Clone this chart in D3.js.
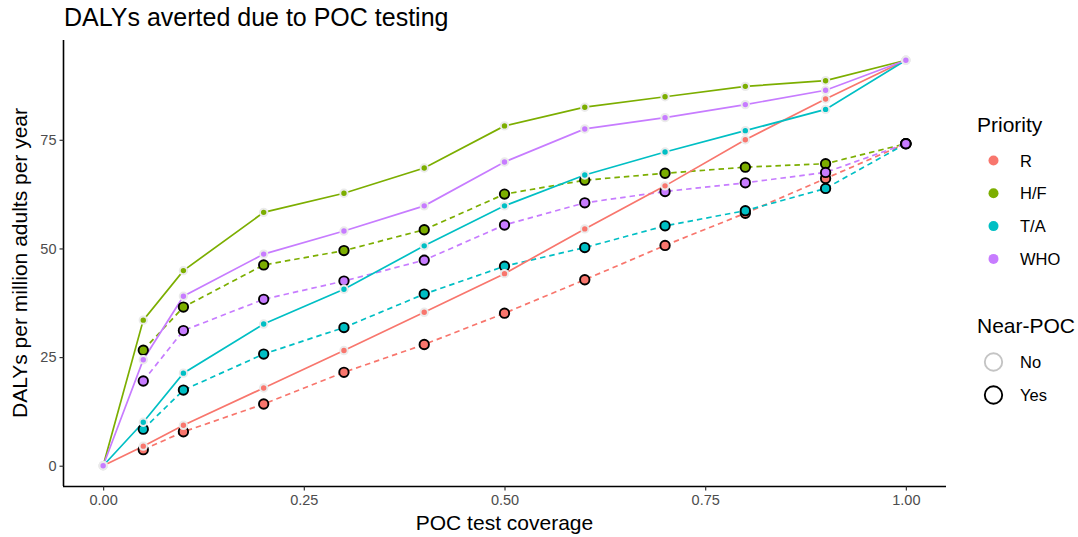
<!DOCTYPE html>
<html>
<head>
<meta charset="utf-8">
<script src="https://cdn.jsdelivr.net/npm/d3@7"></script>
<style>
  html, body { margin: 0; padding: 0; background: #fff; }
  svg { display: block; font-family: "Liberation Sans", Arial, sans-serif; }
</style>
</head>
<body>
<svg id="chart" width="1078" height="537"></svg>
<script>
// POC test coverage levels (the near-POC runs start at 5%)
const coverage = [0, 0.05, 0.1, 0.2, 0.3, 0.4, 0.5, 0.6, 0.7, 0.8, 0.9, 1.0];
const coverageNearPoc = [0.05, 0.1, 0.2, 0.3, 0.4, 0.5, 0.6, 0.7, 0.8, 0.9, 1.0];

// Priority groups and their colours
const priorities = ["R", "H/F", "T/A", "WHO"];
const priorityColors = ["#F8766D", "#7CAE00", "#00BFC4", "#C77CFF"];

// Near-POC levels
const nearPoc = ["No", "Yes"];

// DALYs averted per million adults per year, without near-POC testing
const noR   = [0, 4.5, 9.3, 17.9, 26.5, 35.3, 44.2, 54.5, 64.4, 75.0, 84.4, 93.3];
const noHF  = [0, 33.5, 44.9, 58.3, 62.7, 68.5, 78.2, 82.5, 84.9, 87.3, 88.6, 93.3];
const noTA  = [0, 10.0, 21.3, 32.6, 40.6, 50.6, 59.8, 66.9, 72.2, 77.1, 82.0, 93.3];
const noWHO = [0, 24.4, 39.0, 48.7, 54.0, 59.8, 69.9, 77.5, 80.1, 83.1, 86.4, 93.3];

// DALYs averted per million adults per year, with near-POC testing
const yesR   = [3.7, 7.8, 14.2, 21.5, 27.9, 35.1, 42.8, 50.7, 58.1, 66.1, 74.1];
const yesHF  = [26.6, 36.5, 46.2, 49.5, 54.3, 62.5, 65.7, 67.3, 68.7, 69.5, 74.1];
const yesTA  = [8.4, 17.4, 25.7, 31.8, 39.5, 45.9, 50.2, 55.2, 58.7, 63.8, 74.1];
const yesWHO = [19.5, 31.1, 38.3, 42.5, 47.3, 55.4, 60.5, 63.1, 65.1, 67.5, 74.1];

const xTicks = [0, 0.25, 0.5, 0.75, 1.0];
const yTicks = [0, 25, 50, 75];

const seriesNo  = [noR, noHF, noTA, noWHO];
const seriesYes = [yesR, yesHF, yesTA, yesWHO];

// Series drawn with near-POC first so the "No" markers sit on top
const series = [];
nearPoc.slice().reverse().forEach(np => {
  const src = np === "No" ? seriesNo : seriesYes;
  const xs = np === "No" ? coverage : coverageNearPoc;
  priorities.forEach((p, i) => {
    series.push({
      priority: p,
      nearPoc: np,
      values: xs.map((c, j) => ({ x: c, y: src[i][j] }))
    });
  });
});

const svg = d3.select("#chart");
const panel = { left: 63, right: 946, top: 40, bottom: 486 };

const color = d3.scaleOrdinal().domain(priorities).range(priorityColors);

const allY = seriesNo.concat(seriesYes).flat();
const yMin = d3.min(allY), yMax = d3.max(allY);
const yPad = (yMax - yMin) * 0.05;

const x = d3.scaleLinear().domain([-0.05, 1.05]).range([panel.left, panel.right]);
const y = d3.scaleLinear().domain([yMin - yPad, yMax + yPad]).range([panel.bottom, panel.top]);

// Axes
const xAxis = svg.append("g")
  .attr("transform", `translate(0,${panel.bottom + 0.5})`)
  .call(d3.axisBottom(x).tickValues(xTicks).tickFormat(d3.format(".2f")).tickSize(4).tickSizeOuter(0));
xAxis.select(".domain").attr("d", `M${panel.left},0H${panel.right}`);

const yAxis = svg.append("g")
  .attr("transform", `translate(${panel.left + 0.5},0)`)
  .call(d3.axisLeft(y).tickValues(yTicks).tickSize(4).tickSizeOuter(0));
yAxis.select(".domain").attr("d", `M0,${panel.top}V${panel.bottom}`);

[xAxis, yAxis].forEach(a => {
  a.select(".domain").attr("stroke", "#000").attr("stroke-width", 1.6);
  a.selectAll(".tick line").attr("stroke", "#333").attr("stroke-width", 1.2);
  a.selectAll(".tick text")
    .attr("fill", "#4d4d4d")
    .style("font-size", "14.5px")
    .style("font-family", "Liberation Sans, Arial, sans-serif");
});
xAxis.selectAll(".tick text").attr("dy", "0.71em").attr("y", 8);
yAxis.selectAll(".tick text").attr("x", -7);

// Lines
const line = d3.line().x(d => x(d.x)).y(d => y(d.y));
svg.append("g").selectAll("path")
  .data(series)
  .join("path")
  .attr("d", d => line(d.values))
  .attr("fill", "none")
  .attr("stroke", d => color(d.priority))
  .attr("stroke-width", 1.7)
  .attr("stroke-dasharray", d => d.nearPoc === "Yes" ? "5.5,4" : null);

// Points
const pts = svg.append("g");
series.forEach(s => {
  pts.append("g").selectAll("circle")
    .data(s.values)
    .join("circle")
    .attr("cx", d => x(d.x))
    .attr("cy", d => y(d.y))
    .attr("r", s.nearPoc === "Yes" ? 4.7 : 3.7)
    .attr("fill", color(s.priority))
    .attr("stroke", s.nearPoc === "Yes" ? "#000" : "#ebebeb")
    .attr("stroke-width", s.nearPoc === "Yes" ? 1.9 : 2);
});

// Title and axis titles
svg.append("text")
  .attr("x", 64).attr("y", 26)
  .style("font-size", "25px")
  .attr("fill", "#000")
  .text("DALYs averted due to POC testing");

svg.append("text")
  .attr("x", (panel.left + panel.right) / 2).attr("y", 530)
  .attr("text-anchor", "middle")
  .style("font-size", "21px")
  .text("POC test coverage");

svg.append("text")
  .attr("transform", `translate(27,${(panel.top + panel.bottom) / 2}) rotate(-90)`)
  .attr("text-anchor", "middle")
  .style("font-size", "21px")
  .text("DALYs per million adults per year");

// Legends
const leg = svg.append("g");
leg.append("text").attr("x", 977).attr("y", 132).style("font-size", "21px").text("Priority");
priorities.forEach((p, i) => {
  const cy = 160.5 + i * 32.8;
  leg.append("circle").attr("cx", 993.5).attr("cy", cy).attr("r", 5).attr("fill", color(p));
  leg.append("text").attr("x", 1020).attr("y", cy + 6).style("font-size", "16.5px").text(p);
});

leg.append("text").attr("x", 977).attr("y", 333).style("font-size", "21px").text("Near-POC");
nearPoc.forEach((n, i) => {
  const cy = 362 + i * 33;
  leg.append("circle").attr("cx", 993.5).attr("cy", cy).attr("r", 8.7)
    .attr("fill", "none")
    .attr("stroke", n === "Yes" ? "#000" : "#c4c4c4")
    .attr("stroke-width", 1.9);
  leg.append("text").attr("x", 1020).attr("y", cy + 6).style("font-size", "16.5px").text(n);
});
</script>
</body>
</html>
